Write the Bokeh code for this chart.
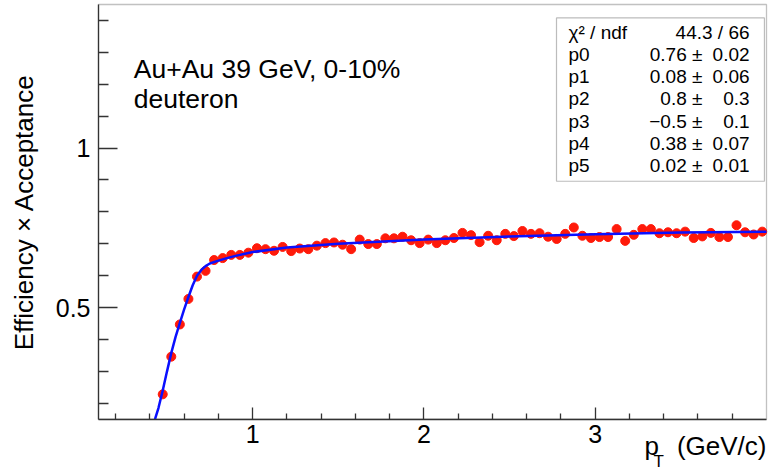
from bokeh.plotting import figure
from bokeh.models import Range1d, FixedTicker, Label, BoxAnnotation
from bokeh.embed import file_html
from bokeh.resources import INLINE

# ---- data ----
pt = [0.475, 0.525, 0.575, 0.625, 0.675, 0.725, 0.775, 0.825, 0.875, 0.925,
      0.975, 1.025, 1.075, 1.125, 1.175, 1.225, 1.275, 1.325, 1.375, 1.425,
      1.475, 1.525, 1.575, 1.625, 1.675, 1.725, 1.775, 1.825, 1.875, 1.925,
      1.975, 2.025, 2.075, 2.125, 2.175, 2.225, 2.275, 2.325, 2.375, 2.425,
      2.475, 2.525, 2.575, 2.625, 2.675, 2.725, 2.775, 2.825, 2.875, 2.925,
      2.975, 3.025, 3.075, 3.125, 3.175, 3.225, 3.275, 3.325, 3.375, 3.425,
      3.475, 3.525, 3.575, 3.625, 3.675, 3.725, 3.775, 3.825, 3.875, 3.925,
      3.975]
eff = [0.228, 0.346, 0.447, 0.527, 0.597, 0.615, 0.649, 0.655, 0.665, 0.665,
       0.672, 0.686, 0.683, 0.678, 0.690, 0.677, 0.685, 0.683, 0.694, 0.702,
       0.704, 0.697, 0.683, 0.713, 0.699, 0.699, 0.717, 0.717, 0.722, 0.711,
       0.702, 0.713, 0.702, 0.711, 0.718, 0.734, 0.727, 0.705, 0.725, 0.711,
       0.731, 0.724, 0.740, 0.731, 0.733, 0.722, 0.715, 0.731, 0.751, 0.725,
       0.718, 0.721, 0.721, 0.746, 0.709, 0.728, 0.746, 0.746, 0.733, 0.736,
       0.733, 0.738, 0.718, 0.723, 0.734, 0.721, 0.721, 0.758, 0.736, 0.729,
       0.738]

fit_x = [0.43, 0.45, 0.475, 0.5, 0.525, 0.55, 0.575, 0.6, 0.625, 0.65,
         0.675, 0.7, 0.725, 0.75, 0.8, 0.85, 0.9, 1.0, 1.2, 1.5,
         2.0, 2.5, 3.0, 3.5, 4.0]
fit_y = [0.150, 0.185, 0.240, 0.300, 0.358, 0.408, 0.452, 0.494, 0.533, 0.570,
         0.600, 0.618, 0.630, 0.638, 0.647, 0.655, 0.662, 0.674, 0.688, 0.700,
         0.713, 0.723, 0.730, 0.735, 0.738]

x_lo, x_hi = 0.1, 4.0
y_lo, y_hi = 0.15, 1.45
x_major = [1, 2, 3]
x_minor = [0.2, 0.4, 0.6, 0.8, 1.2, 1.4, 1.6, 1.8, 2.2, 2.4, 2.6, 2.8,
           3.2, 3.4, 3.6, 3.8]
y_major = [0.5, 1.0]
y_minor = [0.2, 0.3, 0.4, 0.6, 0.7, 0.8, 0.9, 1.1, 1.2, 1.3, 1.4]

stat_names = ["χ² / ndf", "p0", "p1", "p2", "p3", "p4", "p5"]
stat_vals = ["", "0.76 ±", "0.08 ±", "0.8 ±", "−0.5 ±", "0.38 ±", "0.02 ±"]
stat_errs = ["44.3 / 66", "0.02", "0.06", "0.3", "0.1", "0.07", "0.01"]

FONT = "Liberation Sans"
AX = "#333333"

# pixel layout of the frame inside the 768x472 canvas
W, H = 768, 472
FL, FR, FT, FB = 98, 766, 4, 418.7
sx = (FR - FL) / (x_hi - x_lo)
sy = (FB - FT) / (y_hi - y_lo)

p = figure(width=W, height=H, output_backend="svg", toolbar_location=None,
           x_range=Range1d(x_lo - FL / sx, x_hi + (W - FR) / sx),
           y_range=Range1d(y_lo - (H - FB) / sy, y_hi + FT / sy),
           min_border=0, min_border_left=0, min_border_right=0,
           min_border_top=0, min_border_bottom=0)
p.xgrid.visible = False
p.ygrid.visible = False
p.outline_line_color = None
p.background_fill_color = "white"
p.border_fill_color = "white"

for ax in (p.xaxis[0], p.yaxis[0]):
    ax.axis_line_color = AX
    ax.axis_line_width = 1.3
    ax.major_tick_line_color = AX
    ax.minor_tick_line_color = AX
    ax.major_tick_line_width = 1.3
    ax.minor_tick_line_width = 1.3
    ax.major_tick_out = 0
    ax.minor_tick_out = 0
    ax.major_label_text_font = FONT
    ax.major_label_text_font_size = "25px"
    ax.major_label_text_color = "black"
    ax.axis_label_text_font = FONT
    ax.axis_label_text_font_style = "normal"
    ax.axis_label_text_color = "black"

p.xaxis.fixed_location = y_lo
p.yaxis.fixed_location = x_lo
p.xaxis.bounds = (x_lo, x_hi)
p.yaxis.bounds = (y_lo, y_hi)
p.xaxis.ticker = FixedTicker(ticks=x_major, minor_ticks=x_minor)
p.yaxis.ticker = FixedTicker(ticks=y_major, minor_ticks=y_minor)
p.xaxis.major_tick_in = 12
p.xaxis.minor_tick_in = 6
p.yaxis.major_tick_in = 19
p.yaxis.minor_tick_in = 10
p.xaxis.major_label_standoff = 6
p.yaxis.major_label_standoff = 8
p.yaxis.axis_label = "Efficiency × Acceptance"
p.yaxis.axis_label_text_font_size = "26px"
p.yaxis.axis_label_standoff = 14

# frame box (top and right edges)
p.add_layout(BoxAnnotation(left=x_lo, right=x_hi, bottom=y_lo, top=y_hi,
                           fill_color=None, fill_alpha=0,
                           line_color=AX, line_width=1.3, level="underlay"))

p.scatter(pt, eff, size=9, fill_color="#ff1a0a", line_color="#ff1a0a")
p.line(fit_x, fit_y, line_color="#0a10ff", line_width=2.5)

# text annotations
p.add_layout(Label(x=0.306, y=1.2014, text="Au+Au 39 GeV, 0-10%",
                   text_font=FONT, text_font_size="26.5px", text_color="black"))
p.add_layout(Label(x=0.306, y=1.1074, text="deuteron",
                   text_font=FONT, text_font_size="26.5px", text_color="black"))

# stats box
p.add_layout(BoxAnnotation(left=2.774, right=3.988, top=1.408, bottom=0.896,
                           fill_color="white", fill_alpha=1.0,
                           line_color="#222222", line_width=1.2, level="annotation"))
for i, (nm, v, e) in enumerate(zip(stat_names, stat_vals, stat_errs)):
    yc = y_hi - (31.5 + 22.3 * i - FT) / sy
    p.add_layout(Label(x=2.844, y=yc, text=nm, text_font=FONT,
                       text_font_size="19px", text_baseline="middle",
                       text_color="black"))
    if v:
        p.add_layout(Label(x=3.626, y=yc, text=v, text_font=FONT,
                           text_font_size="19px", text_baseline="middle",
                           text_align="right", text_color="black"))
    p.add_layout(Label(x=3.901, y=yc, text=e, text_font=FONT,
                       text_font_size="19px", text_baseline="middle",
                       text_align="right", text_color="black"))

# x-axis title "p_T (GeV/c)" aligned right
p.add_layout(Label(x=x_hi, y=y_lo - (460 - FB) / sy, text="(GeV/c)", text_font=FONT,
                   text_font_size="26px", text_align="right", text_color="black"))
p.add_layout(Label(x=x_lo + (644 - FL) / sx, y=y_lo - (460 - FB) / sy, text="p",
                   text_font=FONT, text_font_size="26px", text_align="left",
                   text_color="black"))
p.add_layout(Label(x=x_lo + (653 - FL) / sx, y=y_lo - (470 - FB) / sy, text="T",
                   text_font=FONT, text_font_size="17px", text_align="left",
                   text_color="black"))

open("out.html", "w").write(file_html(p, INLINE))
